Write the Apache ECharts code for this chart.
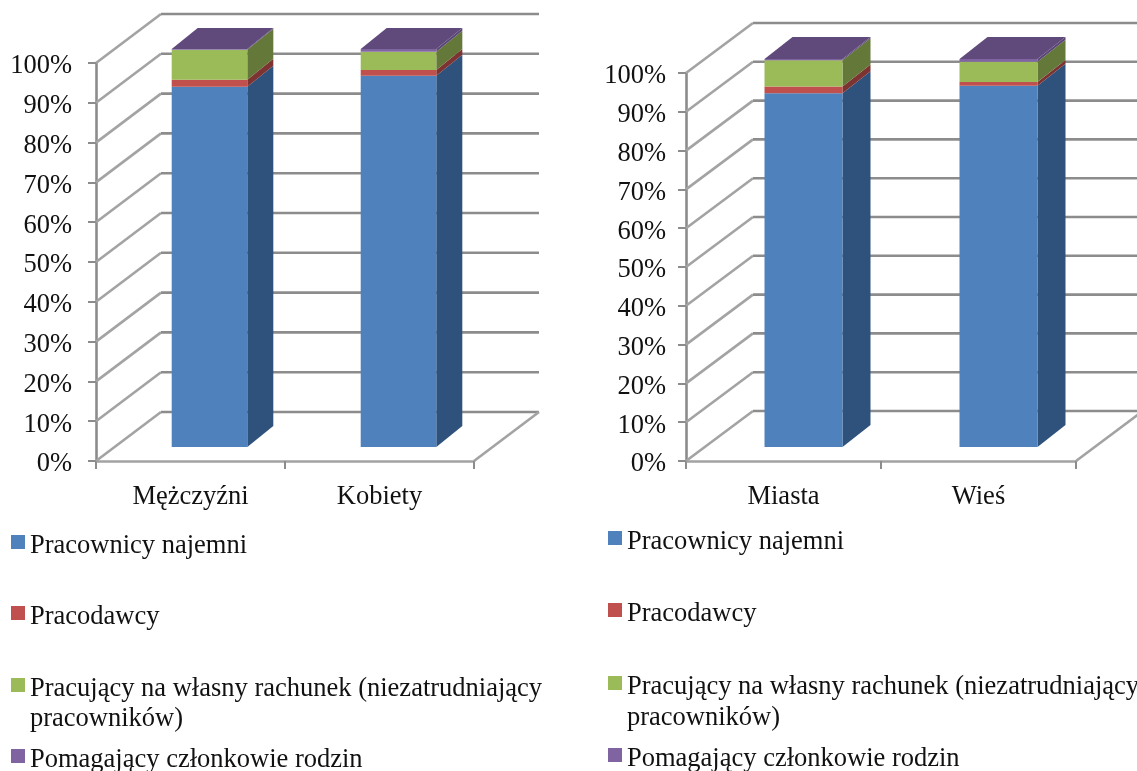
<!DOCTYPE html>
<html><head><meta charset="utf-8">
<style>html,body{margin:0;padding:0;background:#fff}#c{width:1137px;height:771px}</style>
<script src="https://cdn.jsdelivr.net/npm/echarts@6/dist/echarts.min.js"></script>
</head><body><div id="c"></div>
<script>
var categoriesLeft = ['Mężczyźni', 'Kobiety'];
var categoriesRight = ['Miasta', 'Wieś'];
var seriesNames = ['Pracownicy najemni', 'Pracodawcy', 'Pracujący na własny rachunek (niezatrudniający pracowników)', 'Pomagający członkowie rodzin'];
var najemniLeft = [90.5, 93.3];
var pracodawcyLeft = [1.8, 1.4];
var wlasnyLeft = [7.5, 4.6];
var pomagajacyLeft = [0.2, 0.7];
var najemniRight = [91.2, 93.1];
var pracodawcyRight = [1.7, 1.0];
var wlasnyRight = [6.8, 5.2];
var pomagajacyRight = [0.3, 0.7];
var axisTicks = [0, 10, 20, 30, 40, 50, 60, 70, 80, 90, 100];

var frontColors = ['#4F81BD', '#C0504D', '#9BBB59', '#8064A2'];
var sideColors = ['#2F527C', '#7D3331', '#64783A', '#5A4676'];
var topColor = '#604A7B';
var FONT = '"Liberation Serif","Times New Roman",serif';
var FS = 26.5;

var charts = [
  {grid:{left:96, top:63, width:378, height:398}, cats:categoriesLeft,
   vals:[najemniLeft, pracodawcyLeft, wlasnyLeft, pomagajacyLeft],
   wall:[65,-49], offset:[19,-14], depth:[26,-21], labelMargin:24, legendX:11, legendY:[533,604,676,747]},
  {grid:{left:686, top:73, width:390, height:388}, cats:categoriesRight,
   vals:[najemniRight, pracodawcyRight, wlasnyRight, pomagajacyRight],
   wall:[67,-50], offset:[20,-14], depth:[28,-22], labelMargin:20, legendX:608, legendY:[529,601,674,746]}
];

function wallRenderer(c){
  return function(params, api){
    var v = api.value(1), y = api.coord([0, v])[1];
    var cs = params.coordSys, x0 = cs.x, x1 = cs.x + cs.width;
    var dx = c.wall[0], dy = c.wall[1];
    var kids = [
      {type:'line', shape:{x1:x0,y1:y,x2:x0+dx,y2:y+dy}, style:{stroke:'#A3A3A3',lineWidth:2.6,fill:null}},
      {type:'line', shape:{x1:x0+dx,y1:y+dy,x2:x1+dx,y2:y+dy}, style:{stroke:'#8C8C8C',lineWidth:2.6,fill:null}}
    ];
    if (v === 0) {
      kids.push({type:'line', shape:{x1:x1,y1:y,x2:x1+dx,y2:y+dy}, style:{stroke:'#A3A3A3',lineWidth:2.6,fill:null}});
    }
    return {type:'group', children:kids};
  };
}
function barRenderer(c, s, isTop){
  return function(params, api){
    var i = api.value(0);
    var p0 = api.coord([i, api.value(1)]), p1 = api.coord([i, api.value(2)]);
    var w = api.size([1,0])[0] * 0.4;
    var ox = c.offset[0], oy = c.offset[1], dx = c.depth[0], dy = c.depth[1];
    var l = p0[0] - w/2 + ox, r = l + w, b = p0[1] + oy, t = p1[1] + oy;
    var kids = [
      {type:'polygon', shape:{points:[[r,b],[r+dx,b+dy],[r+dx,t+dy],[r,t]]}, style:{fill:sideColors[s]}},
      {type:'rect', shape:{x:l,y:t,width:w,height:b-t}, style:{fill:frontColors[s]}}
    ];
    if (isTop) kids.push({type:'polygon', shape:{points:[[l,t],[r,t],[r+dx,t+dy],[l+dx,t+dy]]}, style:{fill:topColor}});
    return {type:'group', children:kids};
  };
}

var grids=[], xAxes=[], yAxes=[], series=[], legends=[];
charts.forEach(function(c, ci){
  grids.push(c.grid);
  xAxes.push({type:'category', gridIndex:ci, data:c.cats,
    axisLine:{show:true, lineStyle:{color:'#A3A3A3', width:2.6}},
    axisTick:{show:true, length:8, lineStyle:{color:'#8C8C8C', width:2}},
    axisLabel:{margin:23, fontFamily:FONT, fontSize:FS, color:'#111'}, splitLine:{show:false}});
  yAxes.push({type:'value', gridIndex:ci, min:0, max:100, interval:10,
    axisLine:{show:true, lineStyle:{color:'#8C8C8C', width:2.6}},
    axisTick:{show:true, length:8, lineStyle:{color:'#8C8C8C', width:2}},
    axisLabel:{margin:c.labelMargin, formatter:'{a|{value}%}', rich:{a:{fontFamily:FONT, fontSize:FS, color:'#111', padding:[7,0,0,0]}}}, splitLine:{show:false}});
  series.push({type:'custom', name:'walls'+ci, xAxisIndex:ci, yAxisIndex:ci, z:1, silent:true, clip:false,
    renderItem:wallRenderer(c), encode:{x:0,y:1},
    data:axisTicks.map(function(t){return [0,t];})});
  var base = c.cats.map(function(){return 0;});
  c.vals.forEach(function(arr, s){
    var data = arr.map(function(v,i){var r=[i, base[i], base[i]+v]; base[i]+=v; return r;});
    series.push({type:'custom', name:seriesNames[s], xAxisIndex:ci, yAxisIndex:ci, z:2+s, clip:false,
      itemStyle:{color:frontColors[s]}, renderItem:barRenderer(c, s, s===3),
      encode:{x:0,y:[1,2]}, data:data});
    legends.push({left:c.legendX, top:c.legendY[s], orient:'vertical', padding:0, selectedMode:false,
      data:[seriesNames[s]], icon:'rect', itemWidth:14, itemHeight:14,
      formatter: function(n){ return '{a|' + n.replace(' pracowników)','') + '}'; },
      textStyle:{rich:{a:{fontFamily:FONT, fontSize:FS, color:'#111', padding:[9,0,0,0]}}}});
  });
});

var chart = echarts.init(document.getElementById('c'), null, {renderer:'canvas'});
chart.setOption({
  animation:false, backgroundColor:'#fff',
  grid:grids, xAxis:xAxes, yAxis:yAxes, series:series, legend:legends,
  graphic:[
    {type:'text', left:30, top:706, style:{text:'pracowników)', font:FS+'px '+FONT, fill:'#111'}},
    {type:'text', left:627, top:705, style:{text:'pracowników)', font:FS+'px '+FONT, fill:'#111'}}
  ]
});
</script></body></html>
